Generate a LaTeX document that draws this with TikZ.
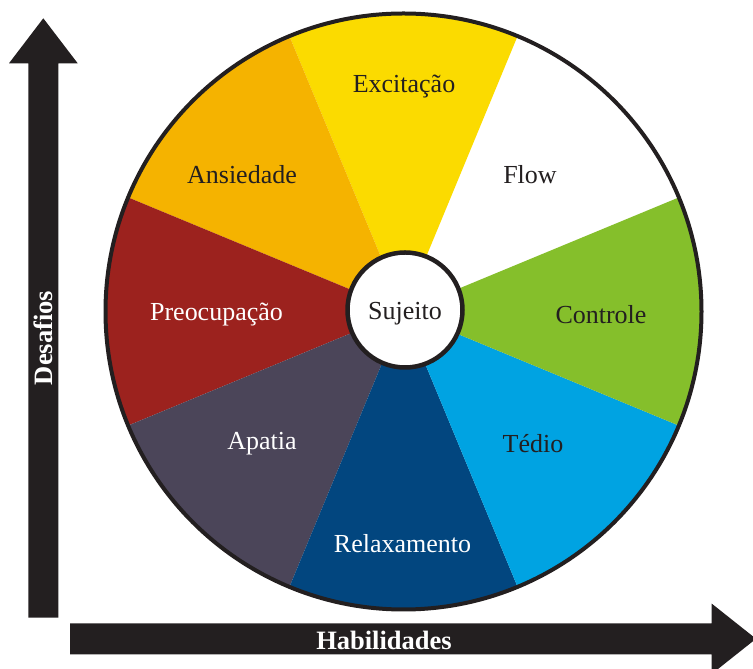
\documentclass[tikz,border=0pt]{standalone}
\usepackage{fontspec}
\setmainfont{Liberation Serif}
\definecolor{ink}{HTML}{231F20}
\definecolor{cExc}{HTML}{FBDB00}
\definecolor{cAns}{HTML}{F5B300}
\definecolor{cPre}{HTML}{9C221E}
\definecolor{cApa}{HTML}{4B4559}
\definecolor{cRel}{HTML}{02467F}
\definecolor{cTed}{HTML}{00A3E2}
\definecolor{cCon}{HTML}{85BF2B}
\begin{document}
\begin{tikzpicture}[x=1pt,y=1pt,
  lbl/.style={font=\fontsize{26}{28}\selectfont, inner sep=0pt, text=ink},
  lblw/.style={lbl, text=white},
  axis/.style={font=\bfseries\fontsize{26.5}{28}\selectfont, text=white, inner sep=0pt}]
\useasboundingbox (0,0) rectangle (753,669);
\coordinate (C) at (403.5,357.5);
\def\R{298}
% sectors
\fill[white] (C) -- +(22.5:\R) arc[start angle=22.5, end angle=67.5, radius=\R] -- cycle;
\fill[cExc] (C) -- +(67.5:\R) arc[start angle=67.5, end angle=112.5, radius=\R] -- cycle;
\fill[cAns] (C) -- +(112.5:\R) arc[start angle=112.5, end angle=157.5, radius=\R] -- cycle;
\fill[cPre] (C) -- +(157.5:\R) arc[start angle=157.5, end angle=202.5, radius=\R] -- cycle;
\fill[cApa] (C) -- +(202.5:\R) arc[start angle=202.5, end angle=247.5, radius=\R] -- cycle;
\fill[cRel] (C) -- +(247.5:\R) arc[start angle=247.5, end angle=292.5, radius=\R] -- cycle;
\fill[cTed] (C) -- +(292.5:\R) arc[start angle=292.5, end angle=337.5, radius=\R] -- cycle;
\fill[cCon] (C) -- +(337.5:\R) arc[start angle=337.5, end angle=382.5, radius=\R] -- cycle;
\draw[ink, line width=4pt] (C) circle[radius=\R];
% centre
\node[circle, draw=ink, line width=4.5pt, fill=white, minimum size=115pt, inner sep=0pt,
  text height=24pt, text depth=5.6pt,
  font=\fontsize{26}{28}\selectfont, text=ink] (suj) at (405,359) {Sujeito};
% labels
\node[lbl]  (exc) at (404,582.5) {Excitação};
\node[lbl]  (ans) at (242,494.5) {Ansiedade};
\node[lbl]  (flo) at (530,494.5) {Flow};
\node[lblw] (pre) at (216.5,354.5) {Preocupação};
\node[lbl]  (con) at (601,354) {Controle};
\node[lblw] (apa) at (262,225.5) {Apatia};
\node[lbl]  (ted) at (533,225.5) {Tédio};
\node[lblw] (rel) at (402.5,125) {Relaxamento};
% axes arrows
\fill[ink] (28.3,51.3) -- (58.3,51.3) -- (58.3,605.7) -- (77.7,605.7) -- (43.3,650.7) -- (9,605.7) -- (28.3,605.7) -- cycle;
\fill[ink] (70,14.7) -- (711.7,14.7) -- (711.7,-5) -- (756,30.2) -- (711.7,65.4) -- (711.7,45.7) -- (70,45.7) -- cycle;
\node[axis, rotate=90] (des) at (43.3,331) {Desafios};
\node[axis] (hab) at (384,29) {Habilidades};
\end{tikzpicture}
\end{document}
